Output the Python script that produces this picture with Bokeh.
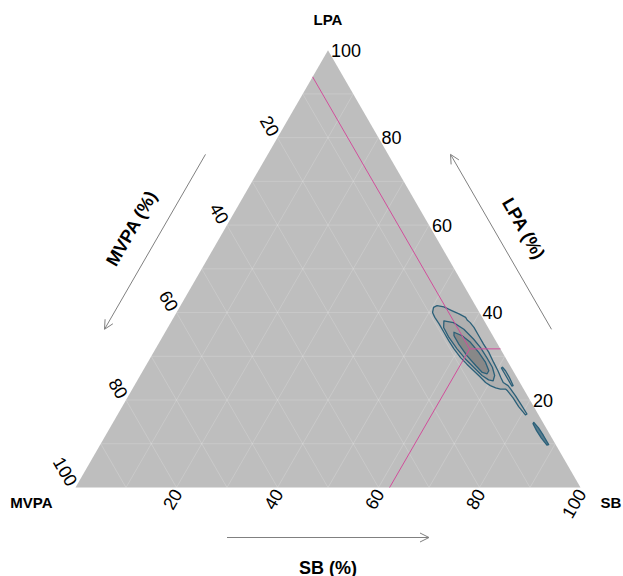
import numpy as np
from bokeh.plotting import figure
from bokeh.models import Range1d, Arrow, OpenHead
from bokeh.core.properties import value
from bokeh.embed import file_html
from bokeh.resources import INLINE

# ---- data (all compositions in percent; MVPA = 100 - SB - LPA) ----
mean_sb = 62.2
mean_lpa = 31.7
mean_mvpa = 6.1

tick_values = [20, 40, 60, 80, 100]
tick_labels = ["20", "40", "60", "80", "100"]
grid_values = [10, 20, 30, 40, 50, 60, 70, 80, 90]

# density contours, outermost first
level1_sb = [50.3, 50.8, 52.3, 54.4, 56.1, 57.8, 58.4, 59.3, 60.6, 62.5, 64.4, 66.4, 68.5, 70.3,
             71.6, 72.7, 74.0, 74.6, 76.6, 78.6, 81.0, 80.8, 78.5, 76.4, 74.5, 73.9, 72.9, 71.8,
             70.5, 69.2, 67.6, 65.5, 63.4, 61.4, 59.1, 57.1, 55.2, 53.3, 51.7, 50.7]
level1_lpa = [41.2, 41.6, 41.3, 40.4, 39.7, 38.9, 38.3, 37.7, 36.6, 34.7, 32.8, 30.9, 28.6, 26.7,
              25.2, 24.0, 23.3, 22.8, 21.0, 19.1, 16.8, 16.6, 18.5, 20.5, 22.1, 22.5, 22.5, 22.8,
              23.3, 24.0, 25.2, 26.7, 28.2, 29.7, 31.7, 33.6, 35.5, 37.4, 38.9, 40.0]

level2_sb = [53.9, 56.0, 58.8, 61.9, 64.2, 66.6, 68.8, 70.2, 70.5, 69.5, 67.7, 65.1, 62.5, 59.7, 56.8, 54.6]
level2_lpa = [38.1, 37.7, 36.2, 33.9, 32.0, 29.7, 27.5, 25.6, 24.4, 24.6, 25.6, 27.5, 29.4, 31.7, 34.3, 36.6]

level3_sb = [57.2, 59.2, 61.6, 64.4, 66.9, 68.5, 68.5, 67.4, 65.3, 62.5, 59.5, 57.6]
level3_lpa = [35.5, 34.7, 33.2, 30.9, 28.6, 26.7, 26.0, 26.3, 27.9, 30.1, 32.8, 34.7]

islandA_sb = [70.8, 71.8, 73.4, 75.0, 74.8, 73.3, 71.7, 70.7]
islandA_lpa = [27.5, 26.7, 25.1, 23.3, 23.2, 24.7, 26.3, 27.3]

islandB_sb = [83.3, 84.8, 86.7, 88.8, 88.5, 86.6, 84.8, 83.3]
islandB_lpa = [14.9, 13.7, 11.9, 9.8, 9.7, 11.3, 13.0, 14.6]

# ---- ternary projection ----
H = np.sqrt(3) / 2
PX = 505.0  # screen pixels per unit side of the triangle


def to_xy(sb, lpa):
    sb = np.asarray(sb, dtype=float) / 100.0
    lpa = np.asarray(lpa, dtype=float) / 100.0
    return list(sb + lpa / 2), list(lpa * H)


def left_pt(t, off):
    # point on the MVPA-LPA edge (t=0 at MVPA corner), pushed outward by off pixels
    return 0.5 * t - H * off / PX, H * t + 0.5 * off / PX


def right_pt(t, off):
    return 1 - 0.5 * t + H * off / PX, H * t + 0.5 * off / PX


def bottom_pt(t, off):
    return t, -off / PX


p = figure(width=623, height=576,
           x_range=Range1d(-75 / PX, 548 / PX), y_range=Range1d(-89 / PX, 487 / PX),
           x_axis_type=None, y_axis_type=None,
           output_backend="svg", toolbar_location=None, min_border=0)
p.outline_line_color = None
p.background_fill_color = "white"
p.border_fill_color = "white"

FONT = value("Liberation Sans")
TICK_SIZE = "18px"

# panel
tx, ty = to_xy([0, 100, 0], [0, 0, 100])
p.patch(tx, ty, fill_color="#BEBEBE", line_color=None)

# grid
gxs, gys = [], []
for g in grid_values:
    for sb_pair, lpa_pair in (([100 - g, 0], [g, g]),
                              ([g, g], [0, 100 - g]),
                              ([100 - g, 0], [0, 100 - g])):
        x, y = to_xy(sb_pair, lpa_pair)
        gxs.append(x)
        gys.append(y)
p.multi_line(gxs, gys, line_color="white", line_alpha=0.22, line_width=0.8)

# density contours
OUTLINE = "#2B6079"
for sbs, lpas, fill in ((level1_sb, level1_lpa, "#B0B0B0"),
                        (islandA_sb, islandA_lpa, "#A8A8A8"),
                        (level2_sb, level2_lpa, "#A0A0A0"),
                        (level3_sb, level3_lpa, "#888888")):
    x, y = to_xy(sbs, lpas)
    p.patch(x, y, fill_color=fill, line_color=OUTLINE, line_width=1.3, line_join="round")
x, y = to_xy(islandB_sb, islandB_lpa)
p.patch(x, y, fill_color=OUTLINE, fill_alpha=0.7, line_color=OUTLINE, line_width=1.3, line_join="round")

# crosshair through the mean composition
cx, cy = to_xy([mean_sb], [mean_lpa])
ends = [to_xy([100 - mean_lpa], [mean_lpa]),          # constant LPA -> right edge
        to_xy([mean_sb], [0]),                        # constant SB -> bottom edge
        to_xy([0], [100 - mean_mvpa])]                # constant MVPA -> left edge
p.multi_line([[cx[0], e[0][0]] for e in ends], [[cy[0], e[1][0]] for e in ends],
             line_color="#D14E9B", line_width=1)

# tick labels
lx, ly = to_xy([100 - v for v in tick_values], tick_values)
p.text(lx, ly, text=tick_labels, text_align="left", text_baseline="middle",
       x_offset=3, text_font=FONT, text_font_size=TICK_SIZE, text_color="black")
mx, my = to_xy([0] * 5, [100 - v for v in tick_values])
p.text(mx, my, text=tick_labels, angle=-np.pi / 3, text_align="right", text_baseline="middle",
       x_offset=-2.5, y_offset=-3, text_font=FONT, text_font_size=TICK_SIZE, text_color="black")
sx, sy = to_xy(tick_values, [0] * 5)
p.text(sx, sy, text=tick_labels, angle=np.pi / 3, text_align="right", text_baseline="middle",
       x_offset=1, y_offset=3, text_font=FONT, text_font_size=TICK_SIZE, text_color="black")

# vertex labels
p.text([0.5], [H], text=["LPA"], text_align="center", text_baseline="middle", y_offset=-31,
       text_font=FONT, text_font_style="bold", text_font_size="15px", text_color="black")
p.text([0.0], [0.0], text=["MVPA"], text_align="right", text_baseline="middle",
       x_offset=-23, y_offset=15,
       text_font=FONT, text_font_style="bold", text_font_size="15px", text_color="black")
p.text([1.0], [0.0], text=["SB"], text_align="left", text_baseline="middle",
       x_offset=20, y_offset=15,
       text_font=FONT, text_font_style="bold", text_font_size="15px", text_color="black")

# axis arrows
ARROW = "#808080"
for start, end in ((left_pt(0.7, 54), left_pt(0.3, 54)),
                   (right_pt(0.3, 54), right_pt(0.7, 54)),
                   (bottom_pt(0.3, 50), bottom_pt(0.7, 50))):
    p.add_layout(Arrow(end=OpenHead(size=9, line_color=ARROW, line_width=1),
                       x_start=start[0], y_start=start[1], x_end=end[0], y_end=end[1],
                       line_color=ARROW, line_width=1))

# axis titles
for (x, y), ang, label in ((left_pt(0.5, 81), np.pi / 3, "MVPA (%)"),
                           (right_pt(0.5, 80), -np.pi / 3, "LPA (%)"),
                           (bottom_pt(0.5, 80), 0.0, "SB (%)")):
    p.text([x], [y], text=[label], angle=ang, text_align="center", text_baseline="middle",
           text_font=FONT, text_font_style="bold", text_font_size="18px", text_color="black")

open("out.html", "w").write(file_html(p, INLINE))
